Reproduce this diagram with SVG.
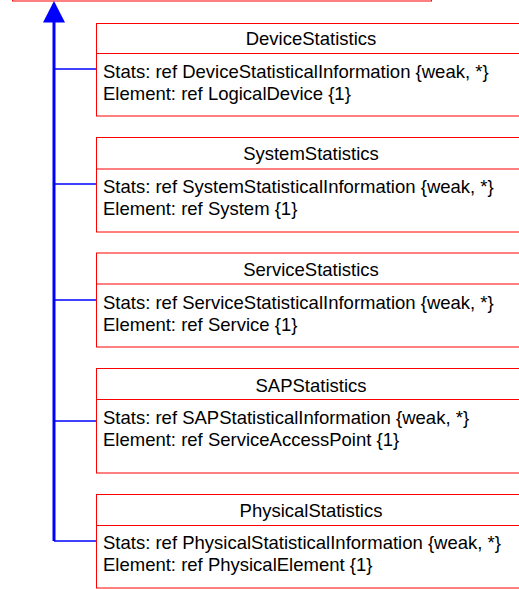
<svg xmlns="http://www.w3.org/2000/svg" width="519" height="589" viewBox="0 0 519 589">
<style>
.box{fill:#ffffff;stroke:#ff0000;stroke-width:1}
.div{stroke:#ff0000;stroke-width:1}
.t{font-family:"Liberation Sans",Arial,sans-serif;font-size:18.5px;fill:#000000}
.c{text-anchor:middle}
.conn{fill:none;stroke:#0000ff;stroke-width:1.5}
.trunk{fill:none;stroke:#0000ff;stroke-width:3}
</style>
<rect width="519" height="589" fill="#ffffff"/>
<g id="parent">
<rect class="box" x="12.5" y="-20" width="419" height="21"/>
</g>
<g id="connectors">
<line class="trunk" x1="54" y1="20" x2="54" y2="541"/>
<polygon points="54,1 43,22.5 65,22.5" fill="#0000ff"/>
<line class="conn" x1="54" y1="69" x2="96" y2="69"/>
<line class="conn" x1="54" y1="184" x2="96" y2="184"/>
<line class="conn" x1="54" y1="300" x2="96" y2="300"/>
<line class="conn" x1="54" y1="421" x2="96" y2="421"/>
<path class="conn" d="M54,541 H96"/>
</g>
<g id="DeviceStatistics">
<rect class="box" x="96.5" y="23.5" width="430" height="92.5"/>
<line class="div" x1="96.5" y1="53.5" x2="526" y2="53.5"/>
<text class="t c" x="311" y="45">DeviceStatistics</text>
<text class="t" x="103" y="78">Stats: ref DeviceStatisticalInformation {weak, *}</text>
<text class="t" x="103" y="100">Element: ref LogicalDevice {1}</text>
</g>
<g id="SystemStatistics">
<rect class="box" x="96.5" y="137.5" width="430" height="94.5"/>
<line class="div" x1="96.5" y1="169" x2="526" y2="169"/>
<text class="t c" x="311" y="160">SystemStatistics</text>
<text class="t" x="103" y="193">Stats: ref SystemStatisticalInformation {weak, *}</text>
<text class="t" x="103" y="215">Element: ref System {1}</text>
</g>
<g id="ServiceStatistics">
<rect class="box" x="96.5" y="253" width="430" height="94"/>
<line class="div" x1="96.5" y1="284" x2="526" y2="284"/>
<text class="t c" x="311" y="276">ServiceStatistics</text>
<text class="t" x="103" y="309">Stats: ref ServiceStatisticalInformation {weak, *}</text>
<text class="t" x="103" y="331">Element: ref Service {1}</text>
</g>
<g id="SAPStatistics">
<rect class="box" x="96.5" y="368.5" width="430" height="104.5"/>
<line class="div" x1="96.5" y1="399.5" x2="526" y2="399.5"/>
<text class="t c" x="311" y="391.5">SAPStatistics</text>
<text class="t" x="103" y="424">Stats: ref SAPStatisticalInformation {weak, *}</text>
<text class="t" x="103" y="445.5">Element: ref ServiceAccessPoint {1}</text>
</g>
<g id="PhysicalStatistics">
<rect class="box" x="96.5" y="494.5" width="430" height="93.5"/>
<line class="div" x1="96.5" y1="525.5" x2="526" y2="525.5"/>
<text class="t c" x="311" y="517">PhysicalStatistics</text>
<text class="t" x="103" y="549">Stats: ref PhysicalStatisticalInformation {weak, *}</text>
<text class="t" x="103" y="571">Element: ref PhysicalElement {1}</text>
</g>
</svg>
